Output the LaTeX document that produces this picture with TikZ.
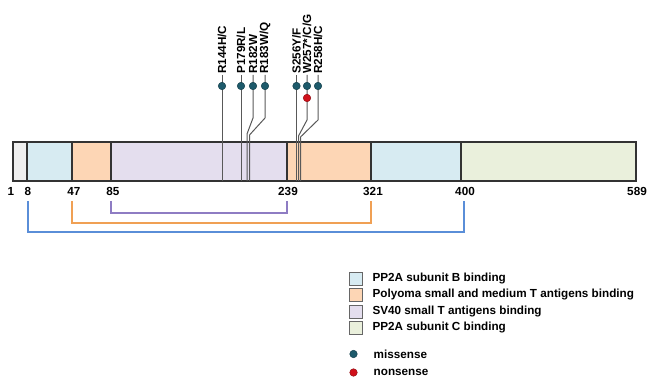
\documentclass[tikz,border=0pt]{standalone}
\usepackage{fontspec}
\setmainfont{Liberation Sans}
\usetikzlibrary{positioning}

\definecolor{grigio}{HTML}{EFEFEF}
\definecolor{azzurro}{HTML}{D7EBF2}
\definecolor{pesca}{HTML}{FDD6B5}
\definecolor{lavanda}{HTML}{E4DEEE}
\definecolor{verdino}{HTML}{EAF0DC}
\definecolor{viola}{HTML}{8E7CC3}
\definecolor{arancio}{HTML}{F0A054}
\definecolor{blu}{HTML}{5A8ED8}
\definecolor{petrolio}{HTML}{1D5A6B}
\definecolor{rosso}{HTML}{D0101A}

\begin{document}
\begin{tikzpicture}[
    x=1pt,y=-1pt,
    font=\bfseries\fontsize{11.7}{13}\selectfont,
    segmento/.style={draw=black!80,line width=1.2pt},
    stelo/.style={draw=black!65,line width=1pt},
    missenso/.style={circle,fill=petrolio,draw=petrolio!70!black,line width=0.5pt,
                 inner sep=0pt,minimum size=7.5pt},
    nonsenso/.style={circle,fill=rosso,draw=rosso!70!black,line width=0.5pt,
                 inner sep=0pt,minimum size=7.5pt},
    etich/.style={rotate=90,anchor=west,inner sep=1pt},
    quadro/.style={draw=black!60,line width=0.8pt,minimum size=13pt,inner sep=0pt},
    legenda/.style={right=9pt of #1,inner sep=1pt},
    parentesi/.style={line width=1.3pt}]

  \useasboundingbox (0,0) rectangle (648,379);

  % --- gli steli delle mutazioni ---
  \foreach \n/\x in {144/222,179/241,182/247,183/249.5,256/296.5,257/298.5,258/300.5}{
    \coordinate (c\n) at (\x,181);
  }
  \node[etich] (l144) at (222,75) {R144H/C};
  \node[etich] (l179) at (241,75) {P179R/L};
  \node[etich] (l182) at (253,75) {R182W};
  \node[etich] (l183) at (265,75) {R183W/Q};
  \node[etich] (l256) at (296.5,75) {S256Y/F};
  \node[etich] (l257) at (307,75) {W257*/C/G};
  \node[etich] (l258) at (318,75) {R258H/C};

  % --- i segmenti della proteina ---
  \foreach \a/\b/\c in {13/27/grigio,27/72/azzurro,72/111/pesca,111/287/lavanda,
                        287/371/pesca,371/461/azzurro,461/636/verdino}{
    \draw[segmento,fill=\c] (\a,142) rectangle (\b,181);
  }

  \draw[stelo] (l144.west) -- (c144);
  \draw[stelo] (l179.west) -- (c179);
  \draw[stelo] (l182.west) -- ++(0,43) -- ([yshift=47pt]c182) -- (c182);
  \draw[stelo] (l183.west) -- ++(0,43) -- ([yshift=46pt]c183) -- (c183);
  \draw[stelo] (l256.west) -- (c256);
  \draw[stelo] (l257.west) -- ++(0,45) -- ([yshift=45pt]c257) -- (c257);
  \draw[stelo] (l258.west) -- ++(0,45) -- ([yshift=44pt]c258) -- (c258);

  % --- i pallini ---
  \foreach \n/\x in {144/222,179/241,182/253,183/265,256/296.5,257/307,258/318}{
    \node[missenso] (m\n) at (\x,86) {};
  }
  \node[nonsenso] (n257) at (307,98) {};

  % --- numeri dei residui ---
  \foreach \x/\t in {11/1,28/8,74/47,113/85,288/239,373/321,465/400,637/589}{
    \node[anchor=north,inner sep=1pt] (p\t) at (\x,186) {\t};
  }

  % --- le parentesi sotto la barra ---
  \coordinate (a85) at (111,201);  \coordinate (a239) at (287,201);
  \coordinate (a47) at (72,201);   \coordinate (a321) at (371,201);
  \coordinate (a8) at (28,201);    \coordinate (a400) at (464,201);
  \draw[parentesi,viola] (a85) -- ++(0,12) -| (a239);
  \draw[parentesi,arancio] (a47) -- ++(0,22) -| (a321);
  \draw[parentesi,blu] (a8) -- ++(0,31) -| (a400);

  % --- legenda ---
  \node[quadro,fill=azzurro] (k1) at (355.5,278.5) {};
  \node[quadro,fill=pesca] (k2) at (355.5,295) {};
  \node[quadro,fill=lavanda] (k3) at (355.5,311.5) {};
  \node[quadro,fill=verdino] (k4) at (355.5,328) {};
  \node[missenso] (k5) at (353.5,354) {};
  \node[nonsenso] (k6) at (353.5,372.5) {};
  \node[legenda=k1] {PP2A subunit B binding};
  \node[legenda=k2] {Polyoma small and medium T antigens binding};
  \node[legenda=k3] {SV40 small T antigens binding};
  \node[legenda=k4] {PP2A subunit C binding};
  \node[right=15pt of k5,inner sep=1pt] {missense};
  \node[right=15pt of k6,inner sep=1pt] {nonsense};

\end{tikzpicture}
\end{document}
